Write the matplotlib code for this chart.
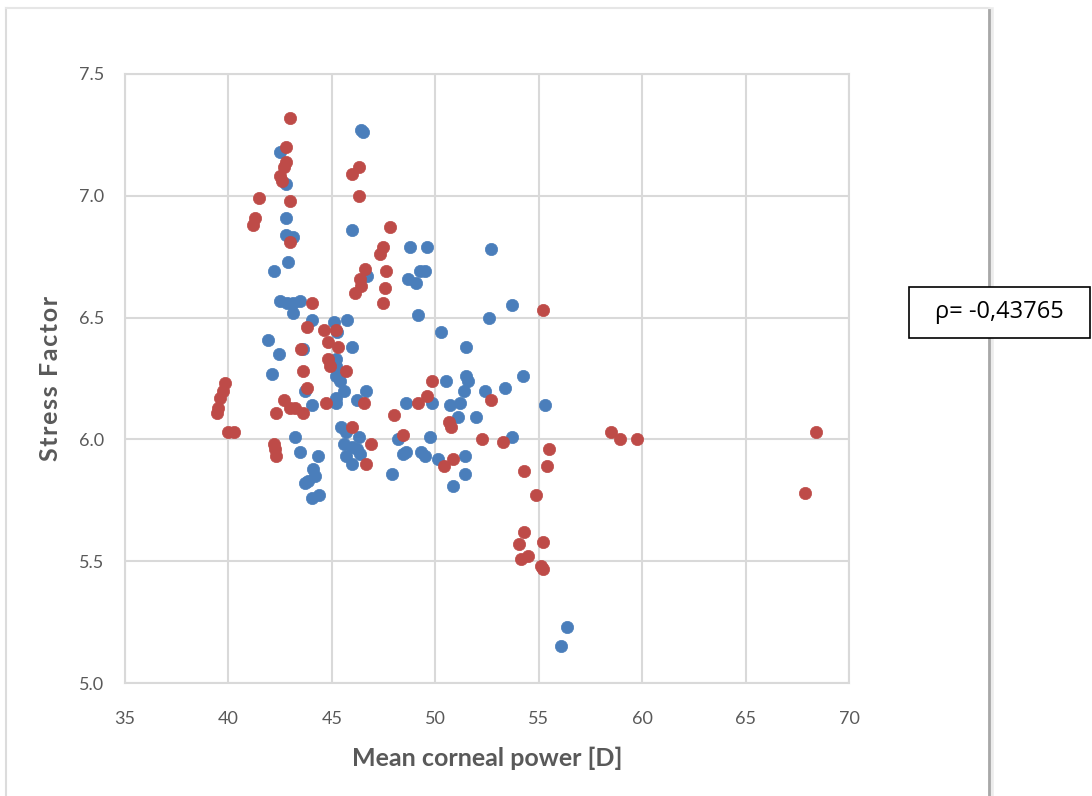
import matplotlib.pyplot as plt
from matplotlib.lines import Line2D
from matplotlib.patches import Rectangle

# group 1 (blue): mean corneal power [D] vs stress factor
blue_x = [46.4, 46.5, 42.5, 42.8, 42.8, 45.95, 42.8, 43.1, 42.9, 42.2,
          46.7, 42.5, 42.85, 43.1, 43.45, 43.1, 44.05, 45.1, 45.75, 45.25,
          41.9, 45.95, 43.6, 42.45, 45.2, 45.2, 42.1, 45.2, 45.4, 45.6,
          43.7, 46.65, 46.2, 45.2, 45.2, 44.05, 45.45, 45.7, 46.3, 45.6,
          45.95, 46.2, 46.35, 45.7, 45.95, 43.2, 43.45, 44.35, 44.1, 44.2,
          43.85, 43.7, 44.05, 44.4, 48.8, 49.6, 49.25, 49.5, 48.7, 49.05,
          49.15, 52.7, 53.7, 52.6, 50.3, 51.5, 51.5, 51.6, 51.4, 54.25,
          50.5, 52.4, 53.35, 48.6, 49.85, 50.7, 51.2, 55.3, 51.1, 51.95,
          48.2, 49.75, 53.7, 48.45, 48.6, 49.3, 49.5, 50.15, 51.45, 51.45,
          50.85, 47.9, 56.35, 56.1]
blue_y = [7.27, 7.26, 7.18, 7.05, 6.91, 6.86, 6.84, 6.83, 6.73, 6.69,
          6.67, 6.57, 6.56, 6.56, 6.57, 6.52, 6.49, 6.48, 6.49, 6.44,
          6.41, 6.38, 6.37, 6.35, 6.33, 6.30, 6.27, 6.26, 6.24, 6.20,
          6.20, 6.20, 6.16, 6.17, 6.15, 6.14, 6.05, 6.03, 6.01, 5.98,
          5.97, 5.96, 5.94, 5.93, 5.90, 6.01, 5.95, 5.93, 5.88, 5.85,
          5.83, 5.82, 5.76, 5.77, 6.79, 6.79, 6.69, 6.69, 6.66, 6.64,
          6.51, 6.78, 6.55, 6.50, 6.44, 6.38, 6.26, 6.24, 6.20, 6.26,
          6.24, 6.20, 6.21, 6.15, 6.15, 6.14, 6.15, 6.14, 6.09, 6.09,
          6.00, 6.01, 6.01, 5.94, 5.95, 5.95, 5.93, 5.92, 5.93, 5.86,
          5.81, 5.86, 5.23, 5.15]

# group 2 (red)
red_x = [43.0, 42.8, 42.76, 42.7, 42.5, 42.6, 45.95, 46.3, 46.3, 41.5,
         43.0, 41.3, 41.2, 43.0, 47.8, 47.45, 47.35, 47.6, 47.55, 47.45,
         46.6, 46.35, 46.4, 46.1, 44.05, 43.8, 44.6, 45.2, 44.8, 45.3,
         43.5, 44.8, 44.9, 43.6, 45.7, 39.85, 39.75, 39.6, 39.5, 39.45,
         43.8, 46.55, 44.7, 42.7, 43.0, 43.2, 43.6, 42.3, 40.0, 40.25,
         45.95, 46.9, 46.65, 42.2, 42.25, 42.3, 55.2, 49.85, 49.6, 49.15,
         52.7, 48.0, 50.65, 50.75, 48.45, 52.25, 53.25, 50.4, 50.85, 55.5,
         55.4, 54.3, 54.85, 54.3, 54.05, 55.2, 54.15, 54.5, 55.1, 55.2,
         58.5, 58.95, 59.75, 67.85, 68.4]
red_y = [7.32, 7.20, 7.14, 7.12, 7.08, 7.06, 7.09, 7.12, 7.00, 6.99,
         6.98, 6.91, 6.88, 6.81, 6.87, 6.79, 6.76, 6.69, 6.62, 6.56,
         6.70, 6.66, 6.63, 6.60, 6.56, 6.46, 6.45, 6.45, 6.40, 6.38,
         6.37, 6.33, 6.30, 6.28, 6.28, 6.23, 6.20, 6.17, 6.13, 6.11,
         6.21, 6.15, 6.15, 6.16, 6.13, 6.13, 6.11, 6.11, 6.03, 6.03,
         6.05, 5.98, 5.90, 5.98, 5.96, 5.93, 6.53, 6.24, 6.18, 6.15,
         6.16, 6.10, 6.07, 6.05, 6.02, 6.00, 5.99, 5.89, 5.92, 5.96,
         5.89, 5.87, 5.77, 5.62, 5.57, 5.58, 5.51, 5.52, 5.48, 5.47,
         6.03, 6.00, 6.00, 5.78, 6.03]

x_ticks = [35, 40, 45, 50, 55, 60, 65, 70]
y_ticks = [5.0, 5.5, 6.0, 6.5, 7.0, 7.5]
rho_text = "ρ= -0,43765"

BLUE = "#4a7ebb"
RED = "#be4b48"
GRAY = "#595959"
GRID = "#d9d9d9"

plt.rcParams["font.family"] = ["Lato", "DejaVu Sans"]

W, H = 1092, 796
fig = plt.figure(figsize=(W / 100, H / 100), dpi=100)


def px(x, y):
    """pixel position (from top-left) -> figure fraction"""
    return x / W, 1 - y / H


# chart panel outline with a soft shadow on the right
for xs, ys, c, lw in [((6, 6), (8, 796), "#dcdcdc", 1.5),
                      ((6, 989), (8, 8), "#e6e6e6", 1.5),
                      ((991, 991), (10, 796), "#ececec", 4),
                      ((988.5, 988.5), (10, 796), "#a8a8a8", 2)]:
    p0, p1 = px(xs[0], ys[0]), px(xs[1], ys[1])
    fig.add_artist(Line2D([p0[0], p1[0]], [p0[1], p1[1]], color=c, lw=lw,
                          transform=fig.transFigure))

ax = fig.add_axes([125 / W, 1 - 683 / H, (849 - 125) / W, (683 - 74) / H])

ax.scatter(blue_x, blue_y, s=78, color=BLUE, edgecolors=BLUE, linewidths=0.5, zorder=3)
ax.scatter(red_x, red_y, s=78, color=RED, edgecolors=RED, linewidths=0.5, zorder=4)

ax.set_xlim(35, 70)
ax.set_ylim(5.0, 7.5)
ax.set_xticks(x_ticks)
ax.set_yticks(y_ticks)
ax.set_xticklabels([str(t) for t in x_ticks])
ax.set_yticklabels([f"{t:.1f}" for t in y_ticks])
ax.grid(True, color=GRID, linewidth=1.5)
ax.set_axisbelow(True)
for s in ax.spines.values():
    s.set_color(GRID)
    s.set_linewidth(1.5)
ax.tick_params(length=0, labelcolor=GRAY, labelsize=13)
ax.tick_params(axis="x", pad=20)
ax.tick_params(axis="y", pad=15)

ax.set_xlabel("Mean corneal power [D]", fontsize=18, fontweight="bold",
              color=GRAY, labelpad=14)
# letter-spaced axis title
ax.set_ylabel("\u200a".join("Stress Factor"), fontsize=18, fontweight="bold",
              color=GRAY, labelpad=12)

# correlation box
bx0, by0 = px(909, 338)
bx1, by1 = px(1090, 287)
fig.add_artist(Rectangle((bx0, by0), bx1 - bx0, by1 - by0, transform=fig.transFigure,
                         facecolor="white", edgecolor="black", linewidth=1.2, zorder=10))
fig.text((bx0 + bx1) / 2, (by0 + by1) / 2, rho_text, fontsize=17,
         ha="center", va="center", color="black", zorder=11,
         family=["Open Sans", "DejaVu Sans"])

fig.savefig("out.png", dpi=100)
